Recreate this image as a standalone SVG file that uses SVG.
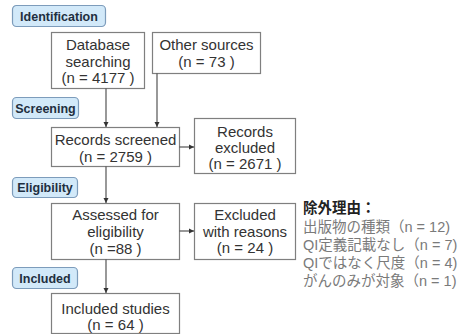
<svg xmlns="http://www.w3.org/2000/svg" width="464" height="334" viewBox="0 0 464 334">
<defs>
<marker id="ah" markerWidth="6" markerHeight="6" refX="5" refY="3" orient="auto" markerUnits="userSpaceOnUse">
<path d="M0,0.5 L5,3 L0,5.5 z" fill="#333"/>
</marker>
<style>
.box{fill:#fff;stroke:#7f7f7f;stroke-width:1.2}
.lab{fill:#d2e9f9;stroke:#7d9cbb;stroke-width:1.2}
.t{font-family:"Liberation Sans",Arial,sans-serif;font-size:15px;fill:#333;text-anchor:middle}
.lt{font-family:"Liberation Sans",Arial,sans-serif;font-size:12.5px;font-weight:bold;fill:#1f2f3f;text-anchor:middle}
.jp{font-family:"Liberation Sans","Noto Sans CJK JP",sans-serif;font-size:14.5px;fill:#7a7a7a}
.jh{font-family:"Liberation Sans","Noto Sans CJK JP",sans-serif;font-size:14.5px;font-weight:bold;fill:#222}
.c{stroke:#444;stroke-width:1.1;fill:none;marker-end:url(#ah)}
</style>
</defs>
<g id="label-identification"><rect class="lab" x="12.5" y="5.5" width="93" height="21" rx="4"/><text class="lt" x="59" y="20.5">Identification</text></g>
<g id="label-screening"><rect class="lab" x="12.5" y="97.5" width="66" height="21" rx="4"/><text class="lt" x="45.5" y="112.5">Screening</text></g>
<g id="label-eligibility"><rect class="lab" x="12.5" y="177.5" width="65" height="20" rx="4"/><text class="lt" x="45" y="192">Eligibility</text></g>
<g id="label-included"><rect class="lab" x="12.5" y="267.5" width="65" height="21" rx="4"/><text class="lt" x="45" y="282.5">Included</text></g>
<g id="database"><rect class="box" x="51.5" y="32.5" width="93" height="56"/><text class="t" x="98" y="50">Database</text><text class="t" x="98" y="66.5">searching</text><text class="t" x="98" y="83">(n = 4177 )</text></g>
<g id="other"><rect class="box" x="152.5" y="32.5" width="108" height="41"/><text class="t" x="206.5" y="50">Other sources</text><text class="t" x="206.5" y="67">(n = 73 )</text></g>
<g id="screened"><rect class="box" x="51.5" y="127.5" width="128" height="39"/><text class="t" x="115.5" y="145">Records screened</text><text class="t" x="115.5" y="161.5">(n = 2759 )</text></g>
<g id="excluded"><rect class="box" x="194.5" y="118.5" width="101" height="55"/><text class="t" x="245" y="137">Records</text><text class="t" x="245" y="153">excluded</text><text class="t" x="245" y="168.5">(n = 2671 )</text></g>
<g id="assessed"><rect class="box" x="51.5" y="203.5" width="128" height="56"/><text class="t" x="115.5" y="220">Assessed for</text><text class="t" x="115.5" y="237">eligibility</text><text class="t" x="115.5" y="253.5">(n =88 )</text></g>
<g id="reasons"><rect class="box" x="194.5" y="203.5" width="101" height="56"/><text class="t" x="245" y="220">Excluded</text><text class="t" x="245" y="236.5">with reasons</text><text class="t" x="245" y="253">(n = 24 )</text></g>
<g id="included"><rect class="box" x="51.5" y="293.5" width="128" height="40"/><text class="t" x="115.5" y="314">Included studies</text><text class="t" x="115.5" y="329.5">(n = 64 )</text></g>
<g id="reasons-list">
<text class="jh" x="303" y="213">除外理由：</text>
<text class="jp" x="303" y="232">出版物の種類（n = 12)</text>
<text class="jp" x="303" y="250">QI定義記載なし（n = 7)</text>
<text class="jp" x="303" y="268">QIではなく尺度（n = 4)</text>
<text class="jp" x="303" y="286">がんのみが対象（n = 1)</text>
</g>
<g id="connectors">
<line class="c" x1="106" y1="88.5" x2="106" y2="127"/>
<line class="c" x1="157" y1="73.5" x2="157" y2="127"/>
<line class="c" x1="179.5" y1="147" x2="194" y2="147"/>
<line class="c" x1="106" y1="166.5" x2="106" y2="203"/>
<line class="c" x1="179.5" y1="231" x2="194" y2="231"/>
<line class="c" x1="106" y1="259.5" x2="106" y2="293"/>
</g>
</svg>
